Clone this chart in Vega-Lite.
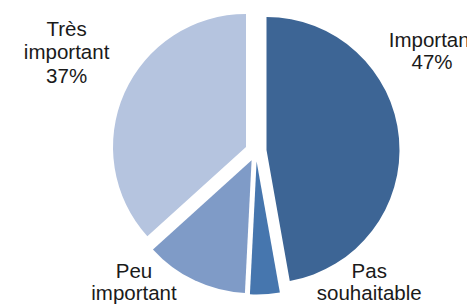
{
  "$schema": "https://vega.github.io/schema/vega-lite/v6.json",
  "autosize": {"type": "none"},
  "width": 422,
  "height": 302,
  "padding": {"left": 45, "top": 0, "right": 0, "bottom": 5},
  "background": "#ffffff",
  "config": {"view": {"stroke": null}},
  "data": {
    "values": [
      {"cat": "Important", "value": 47.2, "label": ["Important", "47%"]},
      {"cat": "Pas souhaitable", "value": 3.6, "label": ["Pas", "souhaitable", "4%"]},
      {"cat": "Peu important", "value": 12.5, "label": ["Peu", "important", "13%"]},
      {"cat": "Très important", "value": 36.7, "label": ["Très", "important", "37%"]}
    ]
  },
  "transform": [{"stack": "value", "groupby": [], "as": ["v0", "v1"]}],
  "encoding": {
    "color": {
      "field": "cat",
      "type": "nominal",
      "legend": null,
      "scale": {
        "domain": ["Important", "Pas souhaitable", "Peu important", "Très important"],
        "range": ["#3d6595", "#4676ae", "#7f9bc7", "#b5c4df"]
      }
    }
  },
  "layer": [
    {
      "transform": [{"filter": "datum.cat === 'Important'"}],
      "mark": {"type": "arc", "outerRadius": 133, "xOffset": 10.5, "yOffset": -1},
      "encoding": {
        "theta": {"field": "v0", "type": "quantitative", "scale": {"domain": [0, 100]}},
        "theta2": {"field": "v1"}
      }
    },
    {
      "transform": [{"filter": "datum.cat === 'Pas souhaitable'"}],
      "mark": {"type": "arc", "outerRadius": 133, "xOffset": 0.6, "yOffset": 10.5},
      "encoding": {
        "theta": {"field": "v0", "type": "quantitative", "scale": {"domain": [0, 100]}},
        "theta2": {"field": "v1"}
      }
    },
    {
      "transform": [{"filter": "datum.cat === 'Peu important'"}],
      "mark": {"type": "arc", "outerRadius": 133, "xOffset": -4.4, "yOffset": 9.2},
      "encoding": {
        "theta": {"field": "v0", "type": "quantitative", "scale": {"domain": [0, 100]}},
        "theta2": {"field": "v1"}
      }
    },
    {
      "transform": [{"filter": "datum.cat === 'Très important'"}],
      "mark": {"type": "arc", "outerRadius": 133, "xOffset": -10, "yOffset": -4},
      "encoding": {
        "theta": {"field": "v0", "type": "quantitative", "scale": {"domain": [0, 100]}},
        "theta2": {"field": "v1"}
      }
    },
    {
      "transform": [{"filter": "datum.cat === 'Important'"}],
      "mark": {"type": "text", "font": "Liberation Sans", "fontSize": 20.5, "align": "center", "baseline": "alphabetic", "lineHeight": 22.5, "color": "#1a1a1a"},
      "encoding": {
        "theta": {"datum": 16.49, "type": "quantitative"},
        "radius": {"value": 204.6},
        "text": {"field": "label"},
        "color": {"value": "#1a1a1a"}
      }
    },
    {
      "transform": [{"filter": "datum.cat === 'Pas souhaitable'"}],
      "mark": {"type": "text", "font": "Liberation Sans", "fontSize": 20.5, "align": "center", "baseline": "alphabetic", "lineHeight": 22.5},
      "encoding": {
        "theta": {"datum": 38.4, "type": "quantitative"},
        "radius": {"value": 170},
        "text": {"field": "label"},
        "color": {"value": "#1a1a1a"}
      }
    },
    {
      "transform": [{"filter": "datum.cat === 'Peu important'"}],
      "mark": {"type": "text", "font": "Liberation Sans", "fontSize": 20.5, "align": "center", "baseline": "alphabetic", "lineHeight": 22.5},
      "encoding": {
        "theta": {"datum": 62.2, "type": "quantitative"},
        "radius": {"value": 175.9},
        "text": {"field": "label"},
        "color": {"value": "#1a1a1a"}
      }
    },
    {
      "transform": [{"filter": "datum.cat === 'Très important'"}],
      "mark": {"type": "text", "font": "Liberation Sans", "fontSize": 20.5, "align": "center", "baseline": "alphabetic", "lineHeight": 23.5},
      "encoding": {
        "theta": {"datum": 83.7, "type": "quantitative"},
        "radius": {"value": 221.7},
        "text": {"field": "label"},
        "color": {"value": "#1a1a1a"}
      }
    }
  ]
}
